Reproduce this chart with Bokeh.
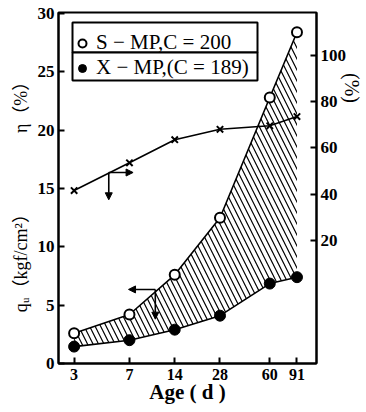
import math
from bokeh.plotting import figure
from bokeh.models import (Range1d, LinearAxis, Arrow, NormalHead,
                          Legend, LegendItem, BoxAnnotation)
from bokeh.embed import file_html
from bokeh.resources import INLINE

# ---------------- data ----------------
ages = [3, 7, 14, 28, 60, 91]
age_labels = ["3", "7", "14", "28", "60", "91"]
qu_s_mp = [2.6, 4.2, 7.6, 12.5, 22.8, 28.4]      # open circles, left axis
qu_x_mp = [1.45, 2.0, 2.9, 4.1, 6.85, 7.4]       # filled circles, left axis
eta = [41.5, 53.5, 63.5, 68.0, 69.5, 73.5]       # crosses, right axis (%)
qu_ticks = [0, 5, 10, 15, 20, 25, 30]
eta_ticks = [20, 40, 60, 80, 100]
legend_labels = ["S − MP,C = 200", "X − MP,(C = 189)"]
x_title = "Age ( d )"
qu_title = "qᵤ（kgf/cm²）"
eta_title = "η（%）"
eta_right_title = "(%)"

# axis-indicator arrows (data positions)
eta_arrow_corner = (5.1, 49.3)
eta_arrow_right_x = 7.4
eta_arrow_down_y = 37.5
qu_arrow_corner = (10.4, 6.35)
qu_arrow_left_x = 6.9
qu_arrow_down_y = 3.8

SERIF = "'Liberation Serif', 'DejaVu Serif', 'Noto Sans CJK SC', serif"
LSERIF = "'Liberation Serif', serif"
EM = "\u2003"
EN = "\u2002"

p = figure(width=366, height=412, x_axis_type="log",
           x_range=Range1d(2.362, 122.7), y_range=Range1d(0, 30.09),
           output_backend="svg", toolbar_location=None,
           min_border_left=58, min_border_right=50,
           min_border_top=12, min_border_bottom=49)
p.extra_y_ranges = {"eta": Range1d(-33.3, 118.5)}
p.grid.visible = False
p.outline_line_color = "black"
p.outline_line_width = 2
p.background_fill_color = "white"
p.border_fill_color = "white"

# hatched band between the two q_u curves
p.varea(x=ages, y1=qu_x_mp, y2=qu_s_mp, fill_color=None, fill_alpha=0,
        hatch_pattern="left_diagonal_line", hatch_color="black",
        hatch_scale=11, hatch_weight=1.2)

p.line(ages, qu_s_mp, line_color="black", line_width=1.6)
r_s = p.scatter(ages, qu_s_mp, marker="circle", size=10, fill_color="white",
                line_color="black", line_width=2)
p.line(ages, qu_x_mp, line_color="black", line_width=1.6)
r_x = p.scatter(ages, qu_x_mp, marker="circle", size=11, fill_color="black",
                line_color="black")
p.line(ages, eta, line_color="black", line_width=1.6, y_range_name="eta")
p.scatter(ages, eta, marker="x", size=9, line_color="black", line_width=2,
          y_range_name="eta")

# axes
def style_axis(ax):
    ax.axis_line_width = 2
    ax.axis_line_color = "black"
    ax.major_tick_line_width = 2
    ax.major_tick_line_color = "black"
    ax.major_tick_in = 6
    ax.major_tick_out = 0
    ax.minor_tick_line_color = None
    ax.major_label_text_font = SERIF
    ax.major_label_text_font_style = "bold"
    ax.major_label_text_font_size = "17px"
    ax.major_label_text_color = "black"
    ax.axis_label_text_font = SERIF
    ax.axis_label_text_color = "black"

style_axis(p.xaxis[0])
style_axis(p.yaxis[0])

p.xaxis.ticker = ages
p.xaxis.major_label_overrides = {a: s for a, s in zip(ages, age_labels)}
p.xaxis.major_label_standoff = 5
p.xaxis.major_label_text_font_size = "16px"
p.xaxis.axis_label = x_title
p.xaxis.axis_label_text_font = LSERIF
p.xaxis.axis_label_text_font_size = "21px"
p.xaxis.axis_label_text_font_style = "bold"
p.xaxis.axis_label_standoff = -3

p.yaxis.ticker = qu_ticks
p.yaxis.major_label_standoff = 4
p.yaxis.axis_label = EN + qu_title + EM * 3 + EN * 2 + eta_title + EM
p.yaxis.axis_label_text_font_size = "18px"
p.yaxis.axis_label_text_font_style = "normal"
p.yaxis.axis_label_standoff = 4

r_ax = LinearAxis(y_range_name="eta", ticker=eta_ticks)
style_axis(r_ax)
r_ax.major_label_standoff = 4
r_ax.axis_label = eta_right_title + EM * 10
r_ax.axis_label_text_font_size = "20px"
r_ax.axis_label_text_font_style = "normal"
r_ax.axis_label_standoff = -8
p.add_layout(r_ax, "right")

# arrows
def head():
    return NormalHead(size=7, fill_color="black", line_color="black", line_width=1)

p.add_layout(Arrow(end=head(), x_start=eta_arrow_corner[0], y_start=eta_arrow_corner[1],
                   x_end=eta_arrow_right_x, y_end=eta_arrow_corner[1],
                   y_range_name="eta", line_width=1.6))
p.add_layout(Arrow(end=head(), x_start=eta_arrow_corner[0], y_start=eta_arrow_corner[1],
                   x_end=eta_arrow_corner[0], y_end=eta_arrow_down_y,
                   y_range_name="eta", line_width=1.6))
p.add_layout(Arrow(end=head(), x_start=qu_arrow_corner[0], y_start=qu_arrow_corner[1],
                   x_end=qu_arrow_left_x, y_end=qu_arrow_corner[1], line_width=1.6))
p.add_layout(Arrow(end=head(), x_start=qu_arrow_corner[0], y_start=qu_arrow_corner[1],
                   x_end=qu_arrow_corner[0], y_end=qu_arrow_down_y, line_width=1.6))

# legend: two boxed rows (frame-relative screen pixels) + one legend inside
for top, bottom in ((341, 311), (311, 283)):
    p.add_layout(BoxAnnotation(left=14, right=199, top=top, bottom=bottom,
                               left_units="screen", right_units="screen",
                               top_units="screen", bottom_units="screen",
                               fill_color="white", fill_alpha=1,
                               line_color="black", line_width=2, line_alpha=1))

legend = Legend(items=[LegendItem(label=legend_labels[0], renderers=[r_s]),
                       LegendItem(label=legend_labels[1], renderers=[r_x])],
                location=(14, 283), border_line_color=None,
                background_fill_alpha=0, padding=0, margin=0, spacing=0,
                glyph_width=20, glyph_height=22, label_height=22,
                label_standoff=4, label_text_font=LSERIF,
                label_text_font_size="21px", label_text_color="black")
p.add_layout(legend, "center")

open("out.html", "w").write(file_html(p, INLINE))
